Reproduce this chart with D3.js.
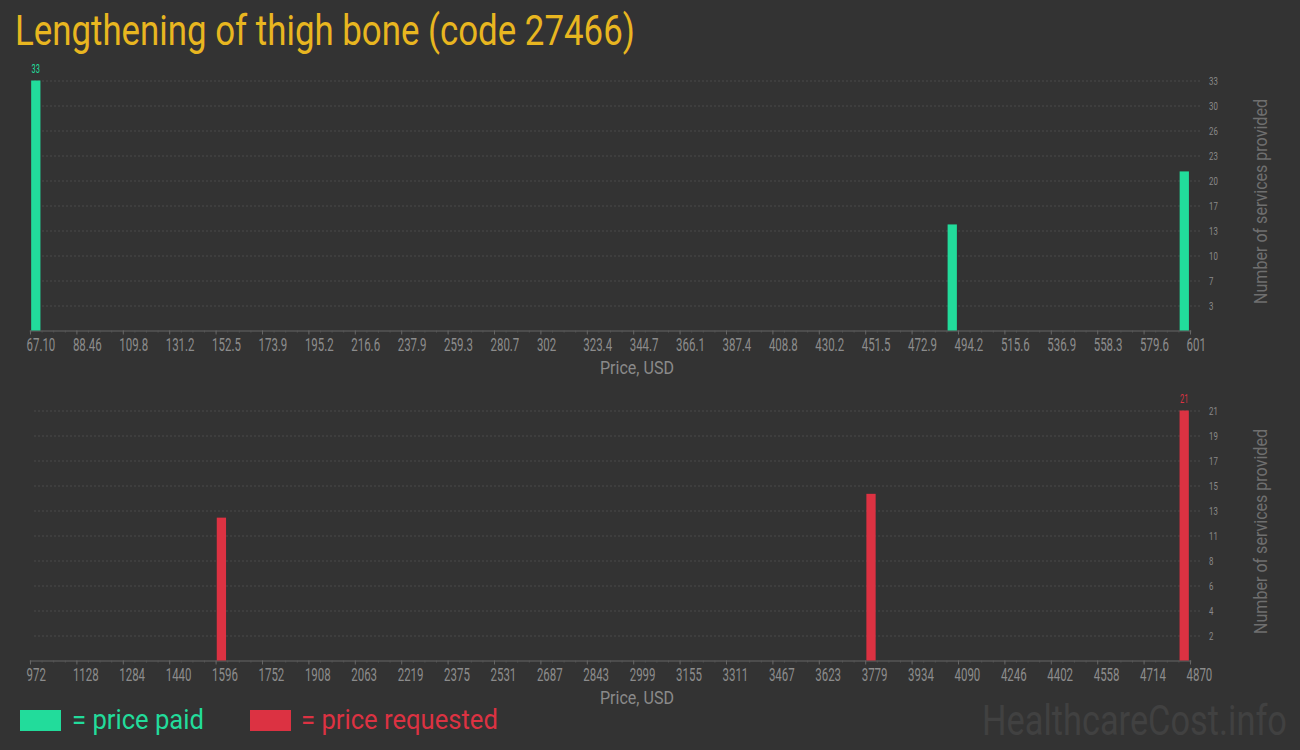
<!DOCTYPE html>
<html>
<head>
<meta charset="utf-8">
<script src="https://cdn.jsdelivr.net/npm/d3@7"></script>
<style>
  html, body { margin: 0; padding: 0; background: #333; }
  svg { display: block; font-family: Roboto, "Open Sans", sans-serif; }
</style>
</head>
<body>
<svg id="chart" width="1300" height="750"></svg>
<script>
// price histogram data, 100 bins per panel
const paidRange = [67.10, 601];
const paidTickLabels = ["67.10", "88.46", "109.8", "131.2", "152.5", "173.9", "195.2", "216.6", "237.9", "259.3",
    "280.7", "302", "323.4", "344.7", "366.1", "387.4", "408.8", "430.2", "451.5", "472.9",
    "494.2", "515.6", "536.9", "558.3", "579.6", "601"];
const paidBinPrices = [67.10, 488.9, 595.7];
const paidCounts = [33, 14, 21];
const paidYLabels = ["3", "7", "10", "13", "17", "20", "23", "26", "30", "33"];

const requestedRange = [972, 4870];
const requestedTickLabels = ["972", "1128", "1284", "1440", "1596", "1752", "1908", "2063", "2219", "2375",
    "2531", "2687", "2843", "2999", "3155", "3311", "3467", "3623", "3779", "3934",
    "4090", "4246", "4402", "4558", "4714", "4870"];
const requestedBinPrices = [1595.7, 3778.6, 4831.0];
const requestedCounts = [12, 14, 21];
const requestedYLabels = ["2", "4", "6", "8", "11", "13", "15", "17", "19", "21"];

const binCount = 100;
const green = "#22dc9b";
const red = "#dc3242";

const svg = d3.select("#chart");

svg.append("rect").attr("width", 1300).attr("height", 750).attr("fill", "#333");

// squeeze a text horizontally to a given width (condensed look)
const fitText = (parent, x, y, width, size, color, text, rotate) => {
    const t = parent.append("text")
        .attr("font-size", size)
        .attr("fill", color)
        .text(text);
    const natural = t.node().getComputedTextLength();
    const sx = width / natural;
    if (rotate) {
        t.attr("text-anchor", "middle")
            .attr("transform", `translate(${x},${y}) rotate(-90) scale(${sx},1)`);
    } else {
        t.attr("transform", `translate(${x},${y}) scale(${sx},1)`);
    }
    return t;
};

fitText(svg, 15, 45, 620, 42, "#e8b620", "Lengthening of thigh bone (code 27466)");

const drawPanel = (opt) => {
    const x = d3.scaleLinear().domain(opt.range).range([30, 1190]);
    const maxCount = d3.max(opt.counts);
    const y = d3.scaleLinear().domain([0, maxCount]).range([opt.bottom, opt.bottom - 250]);
    const binSize = (opt.range[1] - opt.range[0]) / binCount;
    const binPx = x(opt.range[0] + binSize) - x(opt.range[0]);
    const g = svg.append("g");

    // grid + right labels
    const yTicks = d3.range(1, 11).map(k => maxCount * k / 10);
    const yAxis = g.append("g")
        .attr("transform", `translate(1200,0)`)
        .call(d3.axisRight(y).tickValues(yTicks).tickSize(-1168).tickFormat((d, i) => opt.yLabels[i]));
    yAxis.select(".domain").remove();
    yAxis.selectAll("line")
        .attr("stroke", "#4b4b4b")
        .attr("stroke-dasharray", "2,2");
    yAxis.selectAll("text")
        .attr("fill", "#8a8a8a")
        .attr("font-size", 11.5)
        .attr("font-family", "Roboto")
        .attr("text-anchor", "start")
        .attr("dy", "0.36em")
        .attr("x", 9 / 0.68)
        .attr("transform", "scale(0.68,1)");

    // minor ticks at each bin edge
    const minorTicks = d3.range(binCount + 1).map(i => opt.range[0] + i * binSize);
    const minorAxis = g.append("g")
        .attr("transform", `translate(0,${opt.bottom})`)
        .call(d3.axisBottom(x).tickValues(minorTicks).tickSize(2).tickFormat(""));
    minorAxis.selectAll("line").attr("stroke", "#555");
    minorAxis.select(".domain").attr("stroke", "#555").attr("stroke-width", 1.5);

    const majorTicks = d3.range(opt.tickLabels.length).map(i => opt.range[0] + i * binSize * 4);
    const xAxis = g.append("g")
        .attr("transform", `translate(0,${opt.bottom})`)
        .call(d3.axisBottom(x).tickValues(majorTicks).tickSize(4).tickFormat((d, i) => opt.tickLabels[i]));
    xAxis.select(".domain").remove();
    xAxis.selectAll("line").attr("stroke", "#666");
    xAxis.selectAll("text")
        .attr("fill", "#8c8c8c")
        .attr("font-size", 18.5)
        .attr("font-family", "Roboto")
        .attr("text-anchor", "start")
        .attr("y", 21)
        .attr("dy", null)
        .attr("x", -4 / 0.62)
        .attr("transform", "scale(0.62,1)");

    fitText(g, 600, opt.bottom + 43.5, 74, 19, "#8a8a8a", "Price, USD");
    fitText(g, 1267, opt.bottom - 129, 205, 18, "#6f6f6f", "Number of services provided", true);

    const bars = opt.binPrices.map((p, i) => ({ price: p, count: opt.counts[i] }));
    g.selectAll("rect.bar")
        .data(bars)
        .enter()
        .append("rect")
        .attr("class", "bar")
        .attr("x", d => x(d.price) + binPx * 0.1)
        .attr("width", binPx * 0.8)
        .attr("y", d => y(d.count))
        .attr("height", d => y(0) - y(d.count))
        .attr("fill", opt.color);

    // value label on the tallest bar only
    const top = bars.find(d => d.count === maxCount);
    g.append("text")
        .attr("transform", `translate(${x(top.price) + binPx * 0.5},${y(top.count) - 8}) scale(0.62,1)`)
        .attr("text-anchor", "middle")
        .attr("font-size", 12)
        .attr("fill", opt.color)
        .text(top.count);
};

drawPanel({
    range: paidRange, tickLabels: paidTickLabels, binPrices: paidBinPrices,
    counts: paidCounts, yLabels: paidYLabels, bottom: 330.5, color: green
});
drawPanel({
    range: requestedRange, tickLabels: requestedTickLabels, binPrices: requestedBinPrices,
    counts: requestedCounts, yLabels: requestedYLabels, bottom: 660.5, color: red
});

// legend
svg.append("rect").attr("x", 20).attr("y", 710).attr("width", 41).attr("height", 21).attr("fill", green);
fitText(svg, 72, 729, 132, 27, green, "= price paid");
svg.append("rect").attr("x", 250).attr("y", 710).attr("width", 41).attr("height", 21).attr("fill", red);
fitText(svg, 301, 729, 197, 27, red, "= price requested");

fitText(svg, 982, 735, 305, 42, "#414141", "HealthcareCost.info");
</script>
</body>
</html>
